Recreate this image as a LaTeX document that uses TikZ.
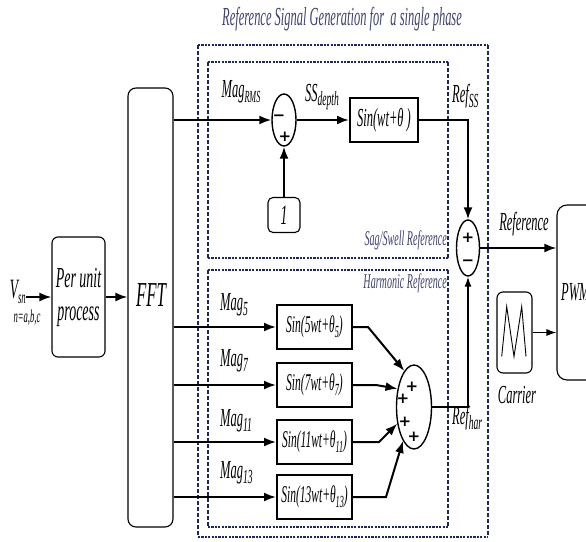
\documentclass[tikz,border=0pt]{standalone}
\usepackage{fontspec}
\newfontfamily\cf[FakeStretch=0.48]{Liberation Serif}
\newfontfamily\dvs{DejaVu Sans}
\usetikzlibrary{shapes.geometric,arrows.meta,calc}
\definecolor{navy}{RGB}{28,38,98}
\definecolor{titlec}{RGB}{62,66,112}
\newcommand{\mysub}[2][20]{\raisebox{-0.4ex}{\fontsize{#1}{#1}\selectfont #2}}
\newcommand{\setfs}[1]{\cf\itshape\fontsize{#1}{#1}\selectfont}
\begin{document}
\begin{tikzpicture}[x=1pt,y=-1pt,
  lbl/.style={font=\setfs{26}, inner sep=0pt},
  blk/.style={draw, line width=1.1pt, rounded corners=6pt, inner sep=1pt},
  sinbox/.style={draw, line width=2pt, minimum width=75pt, minimum height=44pt, inner sep=1pt, font=\setfs{24}},
  sumell/.style={draw, ellipse, line width=1.4pt, inner sep=0pt},
  sig/.style={line width=2pt, -{Latex[length=12pt,width=9pt]}},
  thinsig/.style={line width=1.4pt, -{Latex[length=10pt,width=7pt]}},
  dashH/.style={navy, line width=2.6pt, dash pattern=on 2.2pt off 1.2pt},
  dashV/.style={navy, line width=1.3pt, dash pattern=on 4pt off 2pt},
  dashHi/.style={navy, line width=2.2pt, dash pattern=on 2.2pt off 1.2pt},
  sign/.style={font=\dvs\bfseries\fontsize{15}{15}\selectfont, inner sep=0pt}
]
\useasboundingbox (0,0) rectangle (586,541);
\fill[white] (0,0) rectangle (586,541);

% dashed frames
\draw[dashH] (198,45) -- (488,45);
\draw[dashH] (198,537) -- (488,537);
\draw[dashV] (198,45) -- (198,537);
\draw[dashV] (488,45) -- (488,537);
\draw[dashHi] (208,62) -- (448,62);
\draw[dashHi] (208,258) -- (448,258);
\draw[dashV] (208,62) -- (208,258);
\draw[dashV] (448,62) -- (448,258);
\draw[dashHi] (208,270) -- (448,270);
\draw[dashHi] (208,527) -- (448,527);
\draw[dashV] (208,270) -- (208,527);
\draw[dashV] (448,270) -- (448,527);

\node[lbl, text=titlec] (title) at (342,19) {Reference Signal Generation for\ \ a single phase};
\node[lbl, text=titlec, font=\setfs{21}, anchor=east] (sagl) at (447,240) {Sag/Swell Reference};
\node[lbl, text=titlec, font=\setfs{21}, anchor=east] (harl) at (447,283) {Harmonic Reference};

% input side
\node[lbl, anchor=east, font=\setfs{28}] (vsn) at (26,292) {V\mysub[18]{sn}};
\node[lbl, font=\setfs{18}] (nabc) at (27,318) {n=a,b,c};
\node[blk, minimum width=53pt, minimum height=120pt, align=center, font=\setfs{29}] (pu) at (78.5,297) {Per unit\\[4pt]process};
\draw[sig] (vsn.east |- pu.west) -- (pu.west);
\node[blk, rounded corners=8pt, minimum width=45pt, minimum height=439pt] (fft) at (150.5,307.5) {};
\node[lbl, font=\setfs{35}] (fftt) at (151,295) {FFT};
\draw[sig] (pu.east) -- (fft.west |- pu.east);

% sag/swell
\node[sumell, minimum width=24pt, minimum height=52pt] (s1) at (284,120) {};
\node[sign] (s1m) at (279,118) {−};
\node[sign] (s1p) at (285,137) {+};
\draw[sig] (fft.east |- s1.west) -- (s1.west);
\node[lbl] (magrms) at (241,92) {Mag\mysub[17]{RMS}};
\node[blk, rounded corners=5pt, minimum width=32pt, minimum height=35pt, font=\setfs{28}] (one) at (284,215) {1};
\draw[sig] (one.north) -- (s1.south);
\node[sinbox, minimum width=68pt, font=\setfs{26}] (sinwt) at (384,120) {Sin(wt+θ )};
\draw[sig] (s1.east) -- (sinwt.west);
\node[lbl] (ssd) at (322,97) {SS\mysub{depth}};
\node[sumell, minimum width=23pt, minimum height=56pt] (s2) at (468,248) {};
\node[sign] (s2p) at (468,238) {+};
\node[sign] (s2m) at (468,263) {−};
\draw[sig] (sinwt.east) -- (s2.north |- sinwt.east) -- (s2.north);
\node[lbl, anchor=west] (refss) at (452,96) {Ref\mysub{SS}};

% PWM and carrier
\node[blk, rounded corners=10pt, minimum width=86pt, minimum height=175pt] (pwm) at (600,292.5) {};
\node[lbl, anchor=west] (pwmt) at (561,292) {PWM};
\draw[sig] (s2.east) -- (pwm.west |- s2.east);
\node[lbl] (refl) at (524,224) {Reference};
\node[blk, minimum width=35pt, minimum height=81pt] (car) at (514.5,332.5) {};
\draw[line width=0.9pt] ($(car.center)+(-12.8,24)$) -- ++(5,-50) -- ++(7.3,50) -- ++(7.7,-50) -- ++(4.3,50);
\draw[thinsig, line width=1.1pt] (car.east) -- (pwm.west |- car.east);
\node[lbl] (carl) at (517,395) {Carrier};

% harmonics
\node[sinbox] (sin5) at (314.5,327) {Sin(5wt+θ\mysub[17]{5})};
\node[sinbox] (sin7) at (314.5,385) {Sin(7wt+θ\mysub[17]{7})};
\node[sinbox] (sin11) at (314.5,442) {Sin(11wt+θ\mysub[17]{11})};
\node[sinbox] (sin13) at (314.5,497) {Sin(13wt+θ\mysub[17]{13})};
\draw[sig] (fft.east |- sin5.west) -- (sin5.west);
\draw[sig] (fft.east |- sin7.west) -- (sin7.west);
\draw[sig] (fft.east |- sin11.west) -- (sin11.west);
\draw[sig] (fft.east |- sin13.west) -- (sin13.west);
\node[lbl, anchor=west] (m5) at (220,305) {Mag\mysub{5}};
\node[lbl, anchor=west] (m7) at (220,361) {Mag\mysub{7}};
\node[lbl, anchor=west] (m11) at (220,421) {Mag\mysub{11}};
\node[lbl, anchor=west] (m13) at (220,473) {Mag\mysub{13}};

\node[sumell, minimum width=35pt, minimum height=84pt] (s3) at (414,407) {};
\node[sign] (p1) at (412,387) {+};
\node[sign] (p2) at (403,399) {+};
\node[sign] (p3) at (405,422) {+};
\node[sign] (p4) at (414,437) {+};
\draw[sig] (sin5.east) -- ++(15,0) -- (s3.105);
\draw[sig] (sin7.east) -- ++(23,0) -- (s3.132);
\draw[sig] (sin11.east) -- ++(26,0) -- (s3.225);
\draw[sig] (sin13.east) -- ++(33,0) -- (s3.252);
\draw[thinsig] (s3.east) -- (s2.south |- s3.east) -- (s2.south);
\node[lbl, anchor=west] (refhar) at (452,418) {Ref\mysub{har}};
\end{tikzpicture}
\end{document}
